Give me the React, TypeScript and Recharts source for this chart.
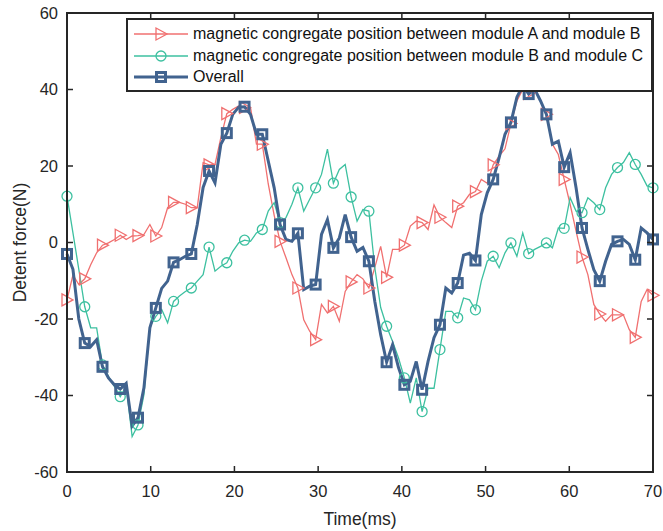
import React from 'react';
import { LineChart, Line, XAxis, YAxis, Legend } from 'recharts';

// sample times (ms), one every ~0.707 ms, markers on every 3rd point
const time = [0, 0.71, 1.41, 2.12, 2.83, 3.54, 4.24, 4.95, 5.66, 6.36, 7.07, 7.78, 8.48, 9.19, 9.9, 10.61, 11.31, 12.02, 12.73, 13.43,
  14.14, 14.85, 15.56, 16.26, 16.97, 17.68, 18.38, 19.09, 19.8, 20.51, 21.21, 21.92, 22.63, 23.33, 24.04, 24.75, 25.45, 26.16, 26.87, 27.58,
  28.28, 28.99, 29.7, 30.4, 31.11, 31.82, 32.53, 33.23, 33.94, 34.65, 35.35, 36.06, 36.77, 37.47, 38.18, 38.89, 39.6, 40.3, 41.01, 41.72,
  42.42, 43.13, 43.84, 44.55, 45.25, 45.96, 46.67, 47.37, 48.08, 48.79, 49.49, 50.2, 50.91, 51.62, 52.32, 53.03, 53.74, 54.44, 55.15, 55.86,
  56.57, 57.27, 57.98, 58.69, 59.39, 60.1, 60.81, 61.52, 62.22, 62.93, 63.64, 64.34, 65.05, 65.76, 66.46, 67.17, 67.88, 68.59, 69.29, 70];

const forceAB = [-15, -8.5, -11, -9.5, -5.8, -2.7, -0.7, -0.1, 0.8, 1.9, 0.8, 1.7, 1.8, 2.1, 4.7, 1.7, 3.9, 9.1, 10.5, 10.5,
  10, 9.1, 9.1, 20.9, 20.3, 20.4, 27.4, 33.7, 34.8, 35.7, 35.3, 35.3, 25.7, 25.7, 15.3, 7.1, 0.3, -4, -8.4, -11.9,
  -20.2, -23.2, -25.4, -16.2, -18.4, -16.7, -20.6, -12.8, -10.3, -8.4, -9.5, -11.9, -6.5, -1, -9.1, -1.8, -1.8, -0.7, 4.3, 5.6,
  5.2, 3.4, 9.8, 6.6, 5.2, 3.9, 9.5, 10.4, 12.6, 13.3, 16.5, 15.5, 20.3, 22.6, 24.5, 31.1, 37, 40, 39, 40,
  37, 33.5, 25.7, 23, 16.5, 10, 3, -3.8, -8.4, -16.2, -18.7, -20.6, -18.9, -18.9, -18.9, -22.8, -24.8, -15.4, -12.3, -13.8];

const forceBC = [12.1, 2.5, -7, -16.8, -22.3, -22.3, -32, -35, -37.6, -40.3, -37.6, -50.7, -47.7, -39.8, -22, -19.3, -17.5, -21, -15.4, -14,
  -12.8, -11.9, -10.1, -8.4, -1.2, -7.5, -6.2, -5.3, -2.3, -0.1, 0.6, 0.3, 2.5, 3.4, 8.2, 10.4, 5.2, 6.5, 10, 14.3,
  8.2, 11.3, 14.3, 17.8, 24.4, 15.5, 19.1, 20.4, 11.9, 5.6, 8.6, 8.2, -6.6, -17, -21.9, -25.9, -30.2, -35.4, -42, -35.4,
  -44.2, -38.1, -38.1, -28, -18, -18, -19.7, -14.5, -15, -17.6, -10.1, -4.9, -3.6, -6.6, -2.7, -0.1, -3.6, 2.5, -2.9, -1.8,
  -1, -0.1, -1.4, 3.8, 3.7, 11.7, 8.2, 7.8, 11.7, 10.4, 8.6, 14.3, 17.8, 19.6, 20.9, 23.5, 20.4, 17.8, 14.8, 14.3];

const forceAll = [-3, -7, -20, -26.3, -27.2, -25.4, -32.5, -35.4, -37.2, -38.3, -36.8, -48, -45.8, -38, -22.3, -17.1, -12, -10.1, -5.2, -4.5,
  -3.6, -3, 4.7, 14.4, 18.7, 15.6, 25.7, 28.6, 33.5, 35.4, 35.5, 33.5, 28.3, 28.3, 21.3, 14.3, 4.7, 0.8, 0.3, 2.4,
  -12.3, -11.4, -11, 2.1, 6, -1.4, 1.2, 7.3, 1.4, -2.3, -1.3, -4.9, -15.4, -24.1, -31.3, -26.7, -32.7, -37.2, -36.3, -31.1,
  -38.5, -31.1, -24.9, -21.5, -11.9, -13.2, -10.6, -3.3, -2.8, -4.7, 7.3, 13, 16.5, 22.2, 28.3, 31.4, 38, 41, 38.8, 40.1,
  37, 33.5, 25.7, 26.5, 19.7, 23.5, 14.3, 3.8, -1.8, -7.1, -10.1, -4.9, -0.5, 0.3, 0.8, -0.5, -4.5, 3.8, 2.5, 0.8];

const xTicks = [0, 10, 20, 30, 40, 50, 60, 70];
const yTicks = [-60, -40, -20, 0, 20, 40, 60];

const names = [
  'magnetic congregate position between module A and module B',
  'magnetic congregate position between module B and module C',
  'Overall',
];

const RED = '#f07070';
const GREEN = '#3dc0a0';
const BLUE = '#41638f';
const AXIS = '#262626';
const FONT = '"Liberation Sans", Arial, sans-serif';

const data = time.map((t, i) => ({ t, ab: forceAB[i], bc: forceBC[i], all: forceAll[i] }));

const MARK_EVERY = 3;

// chart frame
const W = 663;
const H = 531;
const M_TOP = 13;
const M_RIGHT = 10;
const Y_AXIS_W = 67;
const X_AXIS_H = 59;
const PLOT_L = Y_AXIS_W;
const PLOT_R = W - M_RIGHT;
const PLOT_T = M_TOP;
const PLOT_B = H - X_AXIS_H;
const TICK = 6;

const triangle = (cx: number, cy: number, color: string) =>
  <polygon points={`${cx - 5},${cy - 6} ${cx - 5},${cy + 6} ${cx + 6},${cy}`} fill="none" stroke={color} strokeWidth={1.3} />;
const circle = (cx: number, cy: number, color: string) =>
  <circle cx={cx} cy={cy} r={5} fill="none" stroke={color} strokeWidth={1.3} />;
const square = (cx: number, cy: number, color: string) =>
  <rect x={cx - 4.5} y={cy - 4.5} width={9} height={9} fill="none" stroke={color} strokeWidth={3} />;

const makeDot = (shape: (x: number, y: number, c: string) => React.ReactElement, color: string) => (props: any) => {
  const { cx, cy, index } = props;
  if (index % MARK_EVERY !== 0 || cx == null || cy == null) return <g key={`d${index}`} />;
  return <g key={`d${index}`}>{shape(cx, cy, color)}</g>;
};

const BottomTick = ({ x, y, payload }: any) => (
  <text x={x} y={y + 25} textAnchor="middle" fontSize={16.5} fontFamily={FONT} fill={AXIS}>{payload.value}</text>
);
const LeftTick = ({ x, y, payload }: any) => (
  <text x={x - 9} y={y} dy="0.36em" textAnchor="end" fontSize={16.5} fontFamily={FONT} fill={AXIS}>{payload.value}</text>
);

// box edges and inward ticks on all four sides
const Frame = () => {
  const px = (t: number) => PLOT_L + (t / 70) * (PLOT_R - PLOT_L);
  const py = (v: number) => PLOT_B - ((v + 60) / 120) * (PLOT_B - PLOT_T);
  return (
    <svg width={W} height={H} style={{ position: 'absolute', left: 0, top: 0, display: 'block' }}>
      <rect x={PLOT_L} y={PLOT_T} width={PLOT_R - PLOT_L} height={PLOT_B - PLOT_T} fill="none" stroke={AXIS} strokeWidth={2} />
      {xTicks.map((t) => (
        <g key={`x${t}`}>
          <line x1={px(t)} y1={PLOT_B} x2={px(t)} y2={PLOT_B - TICK} stroke={AXIS} strokeWidth={1.5} />
          <line x1={px(t)} y1={PLOT_T} x2={px(t)} y2={PLOT_T + TICK} stroke={AXIS} strokeWidth={1.5} />
        </g>
      ))}
      {yTicks.map((v) => (
        <g key={`y${v}`}>
          <line x1={PLOT_L} y1={py(v)} x2={PLOT_L + TICK} y2={py(v)} stroke={AXIS} strokeWidth={1.5} />
          <line x1={PLOT_R} y1={py(v)} x2={PLOT_R - TICK} y2={py(v)} stroke={AXIS} strokeWidth={1.5} />
        </g>
      ))}
    </svg>
  );
};

const legendSample = (i: number) => {
  const color = [RED, GREEN, BLUE][i];
  const shape = [triangle, circle, square][i];
  return (
    <svg width={60} height={20} style={{ display: 'block' }}>
      <line x1={6} y1={10} x2={60} y2={10} stroke={color} strokeWidth={i === 2 ? 3 : 1.3} />
      {shape(33, 10, color)}
    </svg>
  );
};

const LegendLayer = () => (
  <div style={{ position: 'relative', width: W, height: H, pointerEvents: 'none' }}>
    <Frame />
    <div style={{ position: 'absolute', left: 126, top: 18, border: `2px solid ${AXIS}`, background: '#fff', padding: '3px 8px 2px 0', fontFamily: FONT, fontSize: 16, color: '#111' }}>
      {names.map((n, i) => (
        <div key={n} style={{ display: 'flex', alignItems: 'center', height: 21.7 }}>
          {legendSample(i)}
          <span style={{ marginLeft: 5, whiteSpace: 'nowrap' }}>{n}</span>
        </div>
      ))}
    </div>
  </div>
);

export default function App() {
  return (
    <div style={{ position: 'absolute', left: 0, top: 0, width: W, height: H, background: '#fff' }}>
      <LineChart width={W} height={H} data={data} margin={{ top: M_TOP, right: M_RIGHT, left: 0, bottom: 0 }}>
        <XAxis dataKey="t" type="number" domain={[0, 70]} ticks={xTicks} height={X_AXIS_H} interval={0}
          axisLine={false} tickLine={false} tickSize={0} tickMargin={0} tick={<BottomTick />}
          label={{ content: ({ viewBox }: any) => (
            <text x={viewBox.x + viewBox.width / 2} y={525} textAnchor="middle" fontSize={17.5} fontFamily={FONT} fill={AXIS}>Time(ms)</text>
          ) }} />
        <YAxis type="number" domain={[-60, 60]} ticks={yTicks} width={Y_AXIS_W} interval={0}
          axisLine={false} tickLine={false} tickSize={0} tickMargin={0} tick={<LeftTick />}
          label={{ content: ({ viewBox }: any) => (
            <text x={20} y={viewBox.y + viewBox.height / 2} transform={`rotate(-90 20 ${viewBox.y + viewBox.height / 2})`}
              dy="0.35em" textAnchor="middle" fontSize={17.5} fontFamily={FONT} fill={AXIS}>Detent force(N)</text>
          ) }} />
        <Legend layout="vertical" align="center" verticalAlign="middle" content={<LegendLayer />}
          wrapperStyle={{ left: 0, top: 0, width: W, height: H, zIndex: 2, pointerEvents: 'none' }} />
        <Line type="linear" dataKey="ab" name={names[0]} stroke={RED} strokeWidth={1.3} dot={makeDot(triangle, RED)} activeDot={false} isAnimationActive={false} />
        <Line type="linear" dataKey="bc" name={names[1]} stroke={GREEN} strokeWidth={1.3} dot={makeDot(circle, GREEN)} activeDot={false} isAnimationActive={false} />
        <Line type="linear" dataKey="all" name={names[2]} stroke={BLUE} strokeWidth={3} dot={makeDot(square, BLUE)} activeDot={false} isAnimationActive={false} />
      </LineChart>
    </div>
  );
}
